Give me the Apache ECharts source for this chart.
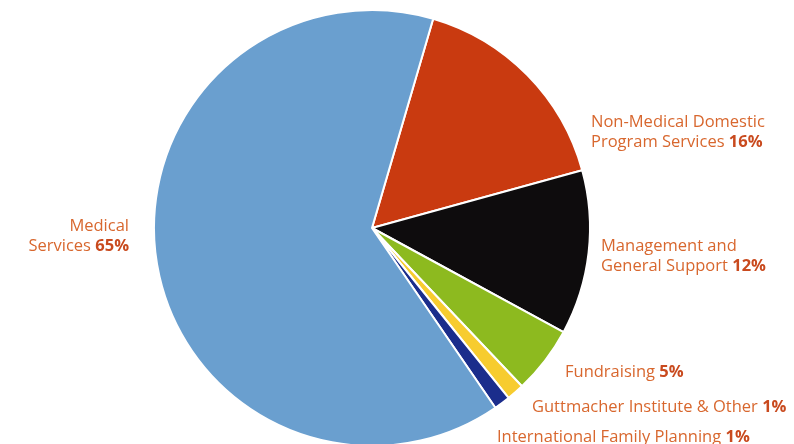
<!DOCTYPE html>
<html>
<head>
<meta charset="utf-8">
<script src="https://cdn.jsdelivr.net/npm/echarts@6/dist/echarts.min.js"></script>
<style>
  html, body { margin: 0; padding: 0; background: #fff; }
  #chart { width: 794px; height: 444px; }
</style>
</head>
<body>
<div id="chart"></div>
<script>
// slices, clockwise from the top (red first)
const categories = [
  "Non-Medical Domestic\nProgram Services",
  "Management and\nGeneral Support",
  "Fundraising",
  "Guttmacher Institute & Other",
  "International Family Planning",
  "Medical\nServices"
];
const sliceValues = [16.2, 12.2, 5, 1.3, 1.2, 64.1];
const labelPercents = [16, 12, 5, 1, 1, 65];
const sliceColors = ["#c93a10", "#0e0c0d", "#8dba1f", "#f7cc2f", "#1b2d8c", "#6a9fcf"];

// label anchor points (px) for each slice
const labelPos = [
  { x: 591, y: 132, align: "left" },
  { x: 601, y: 256, align: "left" },
  { x: 565, y: 372, align: "left" },
  { x: 532, y: 407, align: "left" },
  { x: 497, y: 437, align: "left" },
  { x: 129, y: 236, align: "right" }
];

const chart = echarts.init(document.getElementById("chart"));

chart.setOption({
  animation: false,
  series: [
    {
      type: "pie",
      center: [372, 228],
      radius: 218,
      startAngle: 73.7,
      clockwise: true,
      silent: true,
      itemStyle: {
        borderColor: "#fff",
        borderWidth: 2
      },
      label: {
        show: true,
        overflow: "none",
        fontFamily: "Open Sans",
        fontSize: 16.5,
        lineHeight: 20,
        color: "#d8672e",
        formatter: (p) => p.name + " {p|" + labelPercents[p.dataIndex] + "%}",
        rich: {
          p: {
            fontFamily: "Open Sans",
            fontSize: 16.5,
            lineHeight: 20,
            fontWeight: "bold",
            color: "#c94a1e"
          }
        }
      },
      labelLine: { show: false },
      labelLayout: (params) => {
        const pos = labelPos[params.dataIndex];
        return { x: pos.x, y: pos.y, align: pos.align, verticalAlign: "middle", width: 300 };
      },
      data: categories.map((name, i) => ({
        name: name,
        value: sliceValues[i],
        itemStyle: { color: sliceColors[i] }
      }))
    }
  ]
});
</script>
</body>
</html>
